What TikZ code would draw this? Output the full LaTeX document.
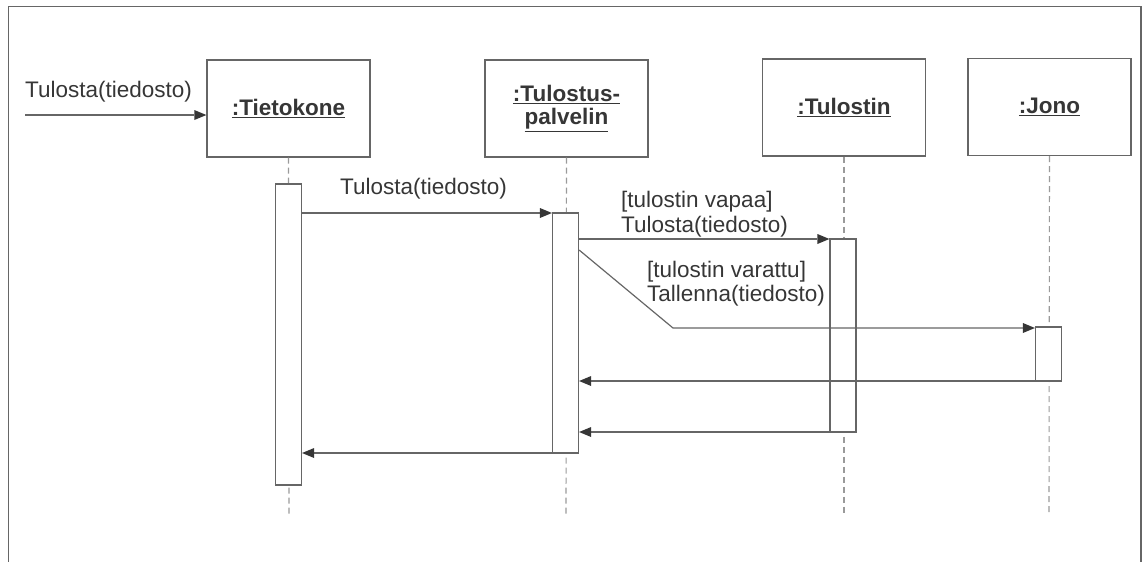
\documentclass[tikz,border=0pt]{standalone}
\usepackage{fontspec}
\setmainfont{Liberation Sans}
\usetikzlibrary{arrows.meta}
\definecolor{ink}{HTML}{363636}
\definecolor{rule}{HTML}{666666}
\definecolor{life}{HTML}{9A9A9A}
\begin{document}
\begin{tikzpicture}[x=1pt,y=-1pt,
  txt/.style={font=\fontsize{22.5}{25}\selectfont, text=ink, inner sep=0pt},
  head/.style={draw=rule, line width=1.3pt, minimum width=163pt, minimum height=97pt,
    inner sep=0pt, align=center, font=\fontsize{22.5}{25}\bfseries\selectfont, text=ink},
  activation/.style={draw=rule, line width=1.2pt, fill=white, inner sep=0pt, minimum width=26pt},
  lifeline/.style={draw=life, line width=1.1pt, dash pattern=on 6pt off 4pt},
  msg/.style={draw=rule, line width=1.2pt,
    -{Triangle[length=12pt,width=10pt,line width=0pt,color=ink,fill=ink]}},
  frame/.style={draw=rule, line width=1.5pt}]
\useasboundingbox (0,0) rectangle (1144,562);

% outer frame, open at the bottom
\coordinate (fbl) at (8.5,562);
\coordinate (ftl) at (8.5,6.5);
\coordinate (ftr) at (1141,6.5);
\coordinate (fbr) at (1141,562);
\draw[frame] (fbl) -- (ftl) -- (ftr) -- (fbr);

% object heads
\node[head] (pc)  at (288.5,108.5) {\underline{:Tietokone}};
\node[head] (srv) at (566.5,108.5) {\underline{:Tulostus-}\\[-2pt]\underline{palvelin}};
\node[head] (prn) at (844,107.5)   {\underline{:Tulostin}};
\node[head] (que) at (1049.5,107)  {\underline{:Jono}};

% lifelines
\coordinate (pcend)  at (289,515);
\coordinate (srvend) at (566,515);
\coordinate (prnend) at (844,513);
\coordinate (queend) at (1049,513);
\draw[lifeline] (pc.south)  -- (pcend);
\draw[lifeline] (srv.south) -- (srvend);
\draw[lifeline] (prn.south) -- (prnend);
\draw[lifeline] (que.south) -- (queend);

% activation bars
\node[activation, minimum height=301pt] (apc)  at (288.5,334.5) {};
\node[activation, minimum height=240pt] (asrv) at (565.5,333)   {};
\node[activation, minimum height=193pt] (aprn) at (843,335.5)   {};
\node[activation, minimum height=54pt]  (aque) at (1048.5,354)  {};

% incoming call
\coordinate (start) at (25,115);
\draw[msg] (start) -- (pc.west |- start);
\node[txt, anchor=base west] (l0) at (25,97) {Tulosta(tiedosto)};

% Tietokone -> palvelin
\draw[msg] (apc.east |- 0,213) -- (asrv.west |- 0,213);
\node[txt, anchor=base west] (l1) at (340,194) {Tulosta(tiedosto)};

% palvelin -> Tulostin
\draw[msg] (asrv.east |- 0,239) -- (aprn.west |- 0,239);
\node[txt, anchor=base west] (l2a) at (621,207) {[tulostin vapaa]};
\node[txt, anchor=base west] (l2b) at (621,232) {Tulosta(tiedosto)};

% palvelin -> Jono (bent)
\coordinate (bend) at (673,328);
\draw[msg] (asrv.east |- 0,250) -- (bend) -- (aque.west |- bend);
\node[txt, anchor=base west] (l3a) at (647,277) {[tulostin varattu]};
\node[txt, anchor=base west] (l3b) at (647,301) {Tallenna(tiedosto)};

% returns
\draw[msg] (aque.west |- 0,381) -- (asrv.east |- 0,381);
\draw[msg] (aprn.west |- 0,432) -- (asrv.east |- 0,432);
\draw[msg] (asrv.west |- 0,453) -- (apc.east |- 0,453);
\end{tikzpicture}
\end{document}
